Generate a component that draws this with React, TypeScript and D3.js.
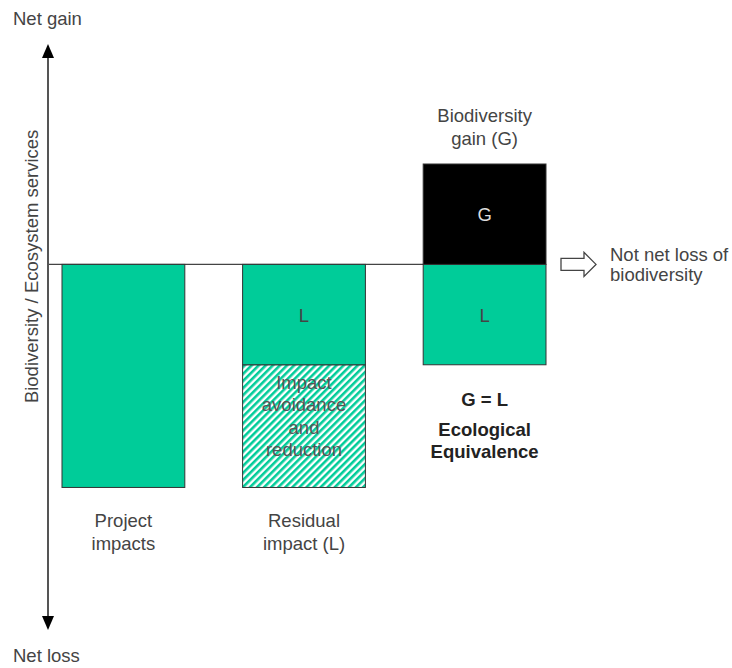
import React from 'react';
import * as d3 from 'd3';

// categories and values (in % of the original project impact)
const categories = ['project', 'residual', 'offset'];
const categoryLabels = [['Project', 'impacts'], ['Residual', 'impact (L)'], ['Biodiversity', 'gain (G)']];
const lossValues = [-100, -45, -45];
const avoidedValues = [0, -55, 0];
const gainValues = [0, 0, 45];
const lossText = ['', 'L', 'L'];
const gainText = ['', '', 'G'];
const avoidedText = ['Impact', 'avoidance', 'and', 'reduction'];
const equivalenceText = ['G = L', 'Ecological', 'Equivalence'];
const axisTitle = 'Biodiversity / Ecosystem services';
const outcomeText = ['Not net loss of', 'biodiversity'];

const width = 732;
const height = 668;
const green = '#00CC99';
const font = "'Liberation Sans', Arial, sans-serif";
const fs = 18.5;

const App: React.FC = () => {
    const xScale = d3.scaleBand<string>()
        .domain(categories)
        .range([62, 546])
        .paddingInner(0.32)
        .paddingOuter(0);

    const yScale = d3.scaleLinear()
        .domain([-163, 97])
        .range([628, 48]);

    const axisX = 48;
    const y0 = yScale(0);
    const bw = xScale.bandwidth();
    const last = categories[categories.length - 1];
    const lastRight = (xScale(last) ?? 0) + bw;

    return (
        <svg width={width} height={height} style={{ position: 'absolute', left: 0, top: 0 }} fontFamily={font}>
            <defs>
                <pattern id="hatch" patternUnits="userSpaceOnUse" width={5} height={5} patternTransform="rotate(45)">
                    <rect width={5} height={5} fill="#fff" />
                    <line x1={1.3} y1={0} x2={1.3} y2={5} stroke={green} strokeWidth={2.6} />
                </pattern>
            </defs>
            <rect width={width} height={height} fill="#fff" />

            {/* baseline */}
            <line x1={axisX} x2={lastRight} y1={y0} y2={y0} stroke="#444" strokeWidth={1.2} />

            {/* vertical axis with arrows */}
            <line x1={axisX} x2={axisX} y1={yScale.range()[1] + 8} y2={yScale.range()[0] - 8} stroke="#555" strokeWidth={2} />
            <path d={`M${axisX},${yScale.range()[1] - 4} l-6,14 h12 z`} fill="#000" />
            <path d={`M${axisX},${yScale.range()[0] + 2} l-6,-14 h12 z`} fill="#000" />

            <text x={13} y={25} fontSize={fs} fill="#444">Net gain</text>
            <text x={13} y={662} fontSize={fs} fill="#444">Net loss</text>
            <text transform={`translate(38,${y0 + 2}) rotate(-90)`} textAnchor="middle" fontSize={fs} fill="#444">{axisTitle}</text>

            {categories.map((c, i) => {
                const x = xScale(c) ?? 0;
                const cx = x + bw / 2;
                const yLoss = yScale(lossValues[i]);
                const yAvoid = yScale(lossValues[i] + avoidedValues[i]);
                const yGain = yScale(gainValues[i]);
                const bottom = Math.max(yLoss, yAvoid);
                return (
                    <g key={c}>
                        {avoidedValues[i] !== 0 && (
                            <g>
                                <rect x={x} y={yLoss} width={bw} height={yAvoid - yLoss} fill="url(#hatch)" stroke="#333" strokeWidth={1} />
                                {avoidedText.map((t, j) => (
                                    <text key={t} x={cx} y={yLoss + 24 + j * 22.5} textAnchor="middle" fontSize={fs} fill="#555">{t}</text>
                                ))}
                            </g>
                        )}
                        <rect x={x} y={y0} width={bw} height={yLoss - y0} fill={green} stroke="#333" strokeWidth={1} />
                        {lossText[i] && (
                            <text x={cx} y={(y0 + yLoss) / 2 + 7} textAnchor="middle" fontSize={fs} fill="#444">{lossText[i]}</text>
                        )}
                        {gainValues[i] !== 0 && (
                            <g>
                                <rect x={x} y={yGain} width={bw} height={y0 - yGain} fill="#000" stroke="#333" strokeWidth={1} />
                                <text x={cx} y={(y0 + yGain) / 2 + 7} textAnchor="middle" fontSize={fs} fill="#ddd">{gainText[i]}</text>
                                {categoryLabels[i].map((t, j) => (
                                    <text key={t} x={cx} y={yGain - 42 + j * 23} textAnchor="middle" fontSize={fs} fill="#444">{t}</text>
                                ))}
                                {equivalenceText.map((t, j) => (
                                    <text key={t} x={cx} y={bottom + 41 + (j === 0 ? 0 : 30 + (j - 1) * 22.5)} textAnchor="middle" fontSize={fs} fontWeight="bold" fill="#222">{t}</text>
                                ))}
                            </g>
                        )}
                        {gainValues[i] === 0 && categoryLabels[i].map((t, j) => (
                            <text key={t} x={cx} y={bottom + 40 + j * 23} textAnchor="middle" fontSize={fs} fill="#444">{t}</text>
                        ))}
                    </g>
                );
            })}

            {/* hollow arrow toward outcome */}
            <path d={`M${lastRight + 15},${y0 - 6} h23 v-6 l12,12 l-12,12 v-6 h-23 z`} fill="#fff" stroke="#444" strokeWidth={1.3} />
            {outcomeText.map((t, j) => (
                <text key={t} x={lastRight + 64} y={y0 - 3 + j * 20} fontSize={fs} fill="#444">{t}</text>
            ))}
        </svg>
    );
};

export default App;
